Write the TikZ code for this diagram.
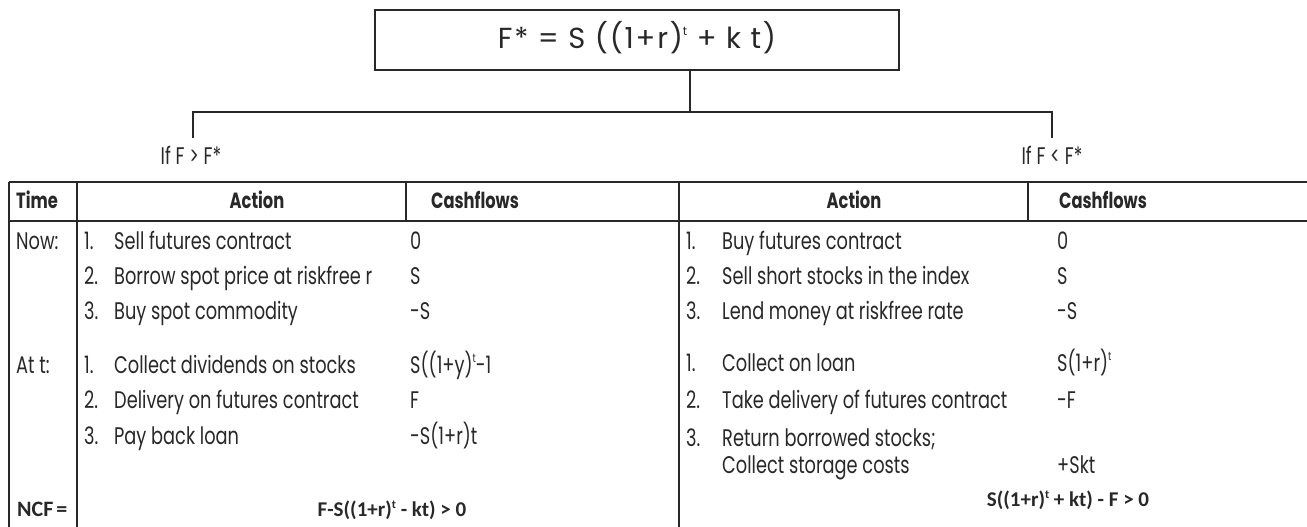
\documentclass[tikz,border=0pt]{standalone}
\usepackage{fontspec}
\setmainfont[FakeStretch=0.74]{Poppins}
\newfontfamily\boxfont[LetterSpace=6]{Poppins}
\newfontfamily\ncffont{Carlito}
\definecolor{ink}{RGB}{40,40,40}
\newcommand\supt{\raisebox{0.8ex}{\fontsize{12}{12}\selectfont t}}

\begin{document}
\begin{tikzpicture}[x=1pt, y=-1pt,
    txt/.style={anchor=west, inner sep=0pt, text=ink, text height=13pt, text depth=0pt,
                font=\fontsize{24}{28}\selectfont},
    hdr/.style={txt, anchor=center, font=\fontsize{22}{26}\selectfont\bfseries},
    ncf/.style={txt, anchor=center, font=\fontsize{21}{24}\selectfont\ncffont\bfseries},
    rule/.style={draw=ink, line width=1.2pt},
    branch/.style={draw=ink, line width=2pt}]
    \useasboundingbox (0,0) rectangle (1307,527);

    % formula box and branches
    \node[txt, anchor=center, draw=ink, line width=2pt, minimum width=524pt, minimum height=60pt,
          text height=17pt, font=\fontsize{29}{32}\selectfont\boxfont] (box) at (637,40) {F* = S ((1+r)\supt{} + k t)};
    \coordinate (hub) at (690,112);
    \coordinate (ltip) at (193,138);
    \coordinate (rtip) at (1052,138);
    \draw[branch] (box.south -| hub) -- (hub);
    \draw[branch] (ltip) |- (hub) -| (rtip);
    \node[txt, anchor=center] (ifgt) at (191,158) {If F > F*};
    \node[txt, anchor=center] (iflt) at (1052,158) {If F < F*};

    % table rules
    \draw[rule] (9,182) -- (1307,182);
    \draw[rule] (9,221) -- (1307,221);
    \draw[rule] (9,182) -- (9,527);
    \draw[rule] (77,182) -- (77,527);
    \draw[rule] (406,182) -- (406,221);
    \draw[rule] (679,182) -- (679,527);
    \draw[rule] (1028,182) -- (1028,221);

    % header
    \node[hdr, anchor=west] (time) at (16,202) {Time};
    \node[hdr] (lact) at (257,202) {Action};
    \node[hdr] (lcf) at (475,202) {Cashflows};
    \node[hdr] (ract) at (854,202) {Action};
    \node[hdr] (rcf) at (1103,202) {Cashflows};

    % time column
    \node[txt] (now) at (16,243) {Now:};
    \node[txt] (att) at (16,367) {At t:};
    \node[ncf, anchor=west, font=\fontsize{22}{26}\selectfont\ncffont\bfseries] (ncf) at (17,510) {NCF\hspace{3pt}=};

    % if F > F*
    \node[txt] (ln1) at (84,243) {1.};
    \node[txt] (la1) at (114,243) {Sell futures contract};
    \node[txt] (lc1) at (410,243) {0};
    \node[txt] (ln2) at (84,278) {2.};
    \node[txt] (la2) at (114,278) {Borrow spot price at riskfree r};
    \node[txt] (lc2) at (410,278) {S};
    \node[txt] (ln3) at (84,313) {3.};
    \node[txt] (la3) at (114,313) {Buy spot commodity};
    \node[txt] (lc3) at (410,313) {-S};
    \node[txt] (ln4) at (84,367) {1.};
    \node[txt] (la4) at (114,367) {Collect dividends on stocks};
    \node[txt] (lc4) at (410,367) {S((1+y)\supt-1};
    \node[txt] (ln5) at (84,402) {2.};
    \node[txt] (la5) at (114,402) {Delivery on futures contract};
    \node[txt] (lc5) at (410,402) {F};
    \node[txt] (ln6) at (84,438) {3.};
    \node[txt] (la6) at (114,438) {Pay back loan};
    \node[txt] (lc6) at (410,438) {-S(1+r)t};
    \node[ncf] (lncf) at (392,510) {F-S((1+r)\supt{} - kt) > 0};

    % if F < F*
    \node[txt] (rn1) at (686,243) {1.};
    \node[txt] (ra1) at (722,243) {Buy futures contract};
    \node[txt] (rc1) at (1057,243) {0};
    \node[txt] (rn2) at (686,278) {2.};
    \node[txt] (ra2) at (722,278) {Sell short stocks in the index};
    \node[txt] (rc2) at (1057,278) {S};
    \node[txt] (rn3) at (686,313) {3.};
    \node[txt] (ra3) at (722,313) {Lend money at riskfree rate};
    \node[txt] (rc3) at (1057,313) {-S};
    \node[txt] (rn4) at (686,365) {1.};
    \node[txt] (ra4) at (722,365) {Collect on loan};
    \node[txt] (rc4) at (1057,365) {S(1+r)\supt};
    \node[txt] (rn5) at (686,402) {2.};
    \node[txt] (ra5) at (722,402) {Take delivery of futures contract};
    \node[txt] (rc5) at (1057,402) {-F};
    \node[txt] (rn6) at (686,440) {3.};
    \node[txt] (ra6) at (722,440) {Return borrowed stocks;};
    \node[txt] (ra7) at (722,467) {Collect storage costs};
    \node[txt] (rc6) at (1057,467) {+Skt};
    \node[ncf] (rncf) at (1068,500) {S((1+r)\supt{} + kt) - F > 0};
\end{tikzpicture}
\end{document}
